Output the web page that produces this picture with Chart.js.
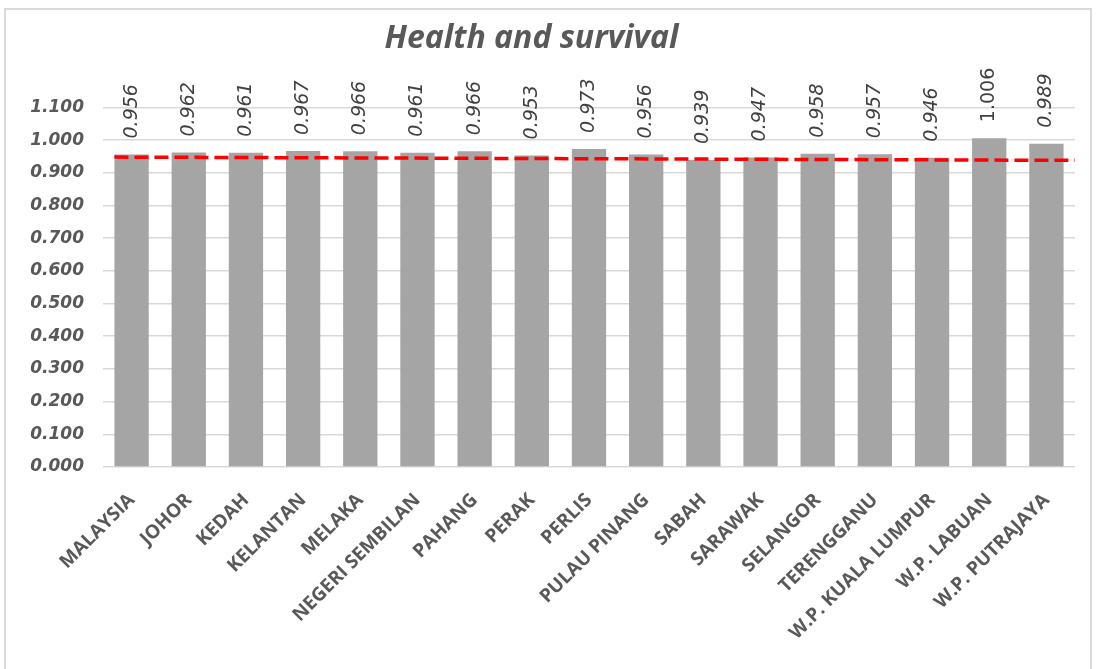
<!DOCTYPE html>
<html>
<head>
<meta charset="utf-8">
<script src="https://cdn.jsdelivr.net/npm/chart.js@4/dist/chart.umd.min.js"></script>
<style>
  body { margin: 0; background: #fff; overflow: hidden; }
  #frame { position: absolute; left: 4px; top: 8px; width: 1088px; height: 670px; border: 2px solid #d9d9d9; box-sizing: border-box; }
  #chart { display: block; }
</style>
</head>
<body>
<div id="frame"><canvas id="chart" width="1084" height="659"></canvas></div>
<script>
var categories = ['MALAYSIA', 'JOHOR', 'KEDAH', 'KELANTAN', 'MELAKA', 'NEGERI SEMBILAN', 'PAHANG', 'PERAK',
    'PERLIS', 'PULAU PINANG', 'SABAH', 'SARAWAK', 'SELANGOR', 'TERENGGANU', 'W.P. KUALA LUMPUR',
    'W.P. LABUAN', 'W.P. PUTRAJAYA'];
var scores = [0.956, 0.962, 0.961, 0.967, 0.966, 0.961, 0.966, 0.953, 0.973, 0.956, 0.939, 0.947,
    0.958, 0.957, 0.946, 1.006, 0.989];
// red dashed reference line, ends given in category units
var refLineX = [-0.3, 16.5];
var refLineY = [0.948, 0.938];
var yTicks = [0, 0.1, 0.2, 0.3, 0.4, 0.5, 0.6, 0.7, 0.8, 0.9, 1.0, 1.1];

var barLabels = {
    id: 'barLabels',
    afterDatasetsDraw: function (chart) {
        var ctx = chart.ctx;
        var meta = chart.getDatasetMeta(0);
        ctx.save();
        ctx.fillStyle = '#404040';
        meta.data.forEach(function (bar, i) {
            var v = scores[i];
            ctx.save();
            ctx.translate(bar.x, bar.y - 16);
            ctx.rotate(-Math.PI / 2);
            ctx.font = (v >= 1 ? '' : 'italic ') + '19px "DejaVu Sans"';
            ctx.textAlign = 'left';
            ctx.textBaseline = 'middle';
            ctx.fillText(v.toFixed(3), 0, 0);
            ctx.restore();
        });
        ctx.restore();
    }
};

var chart = new Chart(document.getElementById('chart').getContext('2d'), {
    data: {
        labels: categories,
        datasets: [{
            type: 'bar',
            data: scores,
            backgroundColor: '#a5a5a5',
            grouped: false,
            categoryPercentage: 1,
            barPercentage: 0.6,
            order: 2
        }, {
            type: 'line',
            xAxisID: 'x2',
            data: refLineX.map(function (x, i) { return { x: x, y: refLineY[i] }; }),
            borderColor: '#ff0000',
            borderWidth: 3.5,
            borderDash: [14, 6],
            pointRadius: 0,
            fill: false,
            order: 1
        }]
    },
    options: {
        responsive: false,
        animation: false,
        layout: { padding: { left: -18, right: 15, top: 0, bottom: 0 } },
        plugins: {
            legend: { display: false },
            tooltip: { enabled: false },
            title: {
                display: true,
                text: 'Health and survival',
                color: '#595959',
                font: { family: 'Open Sans', size: 32, style: 'italic', weight: 'bold' },
                padding: { top: 10, bottom: 49 }
            }
        },
        scales: {
            x: {
                grid: { display: false },
                border: { display: false },
                ticks: {
                    color: '#595959',
                    autoSkip: false,
                    maxRotation: 45,
                    minRotation: 45,
                    padding: 14,
                    font: { family: 'Open Sans', size: 19, weight: 'bold' }
                },
                afterFit: function (s) { s.height = 202; }
            },
            x2: {
                type: 'linear',
                display: false,
                min: -0.5,
                max: 16.5
            },
            y: {
                min: 0,
                max: 1.1,
                afterBuildTicks: function (s) { s.ticks = yTicks.map(function (v) { return { value: v }; }); },
                grid: { color: '#d9d9d9', lineWidth: 1.5, drawTicks: false },
                border: { display: false },
                ticks: {
                    color: '#595959',
                    padding: 19,
                    font: { family: 'DejaVu Sans', size: 17, style: 'italic', weight: 'bold' },
                    callback: function (v) { return Number(v).toFixed(3); }
                },
                afterFit: function (s) { s.width = 115; }
            }
        }
    },
    plugins: [barLabels]
});
</script>
</body>
</html>
